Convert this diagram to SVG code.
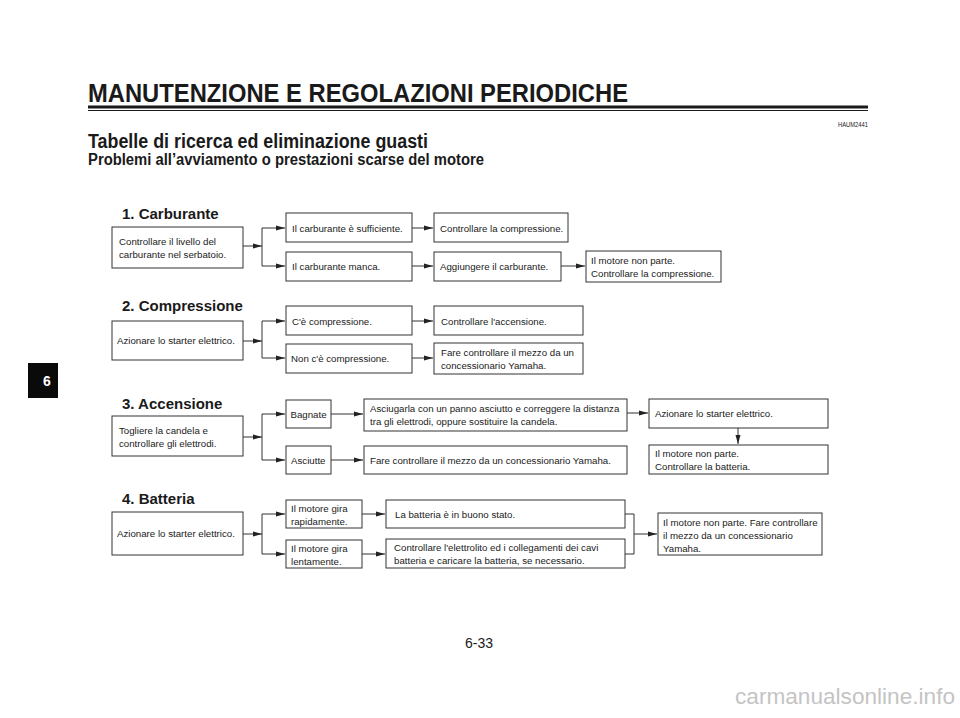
<svg xmlns="http://www.w3.org/2000/svg" width="960" height="718" viewBox="0 0 960 718">
<style>
text{font-family:"Liberation Sans",Arial,Helvetica,sans-serif;fill:#1a1a1a}
.t{font-size:9.7px}
.h{font-size:15px;font-weight:bold}
.box{fill:#fff;stroke:#333;stroke-width:1}
.ln{fill:none;stroke:#333;stroke-width:1}
</style>
<defs>
<marker id="ar" markerWidth="9" markerHeight="6" refX="9" refY="3" orient="auto" markerUnits="userSpaceOnUse">
<path d="M0,0.5 L9,3 L0,5.5 Z" fill="#222"/>
</marker>
</defs>
<rect width="960" height="718" fill="#fff"/>
<g id="header">
<text x="88" y="102" font-size="25" font-weight="bold" textLength="540" lengthAdjust="spacingAndGlyphs">MANUTENZIONE E REGOLAZIONI PERIODICHE</text>
<rect x="88" y="105.5" width="780" height="3" fill="#1a1a1a"/>
<rect x="88" y="110" width="780" height="1" fill="#1a1a1a"/>
<text x="868" y="127" font-size="7.5" text-anchor="end" textLength="30" lengthAdjust="spacingAndGlyphs">HAUM2441</text>
<text x="88" y="148" font-size="20" font-weight="bold" textLength="340" lengthAdjust="spacingAndGlyphs">Tabelle di ricerca ed eliminazione guasti</text>
<text x="88" y="165" font-size="16" font-weight="bold" textLength="396" lengthAdjust="spacingAndGlyphs">Problemi all’avviamento o prestazioni scarse del motore</text>
</g>
<g id="tab">
<rect x="28" y="363" width="30" height="35" fill="#0a0a0a"/>
<text x="47" y="386" font-size="14" font-weight="bold" text-anchor="middle" style="fill:#fff">6</text>
</g>
<g id="headings">
<text class="h" x="122" y="219">1. Carburante</text>
<text class="h" x="122" y="311">2. Compressione</text>
<text class="h" x="122" y="409">3. Accensione</text>
<text class="h" x="122" y="504">4. Batteria</text>
</g>
<g id="connectors">
<!-- section 1 -->
<line class="ln" x1="243" y1="246" x2="262" y2="246" marker-end="url(#ar)"/>
<line class="ln" x1="262" y1="228" x2="262" y2="266"/>
<line class="ln" x1="262" y1="228" x2="285" y2="228" marker-end="url(#ar)"/>
<line class="ln" x1="262" y1="266" x2="285" y2="266" marker-end="url(#ar)"/>
<line class="ln" x1="412" y1="228" x2="433" y2="228" marker-end="url(#ar)"/>
<line class="ln" x1="412" y1="266" x2="433" y2="266" marker-end="url(#ar)"/>
<line class="ln" x1="561" y1="266" x2="585" y2="266" marker-end="url(#ar)"/>
<!-- section 2 -->
<line class="ln" x1="243" y1="341" x2="262" y2="341" marker-end="url(#ar)"/>
<line class="ln" x1="262" y1="321" x2="262" y2="358"/>
<line class="ln" x1="262" y1="321" x2="285" y2="321" marker-end="url(#ar)"/>
<line class="ln" x1="262" y1="358" x2="285" y2="358" marker-end="url(#ar)"/>
<line class="ln" x1="412" y1="321" x2="433" y2="321" marker-end="url(#ar)"/>
<line class="ln" x1="412" y1="358" x2="433" y2="358" marker-end="url(#ar)"/>
<!-- section 3 -->
<line class="ln" x1="243" y1="437" x2="262" y2="437" marker-end="url(#ar)"/>
<line class="ln" x1="262" y1="414" x2="262" y2="460"/>
<line class="ln" x1="262" y1="414" x2="285" y2="414" marker-end="url(#ar)"/>
<line class="ln" x1="262" y1="460" x2="285" y2="460" marker-end="url(#ar)"/>
<line class="ln" x1="331" y1="414" x2="363" y2="414" marker-end="url(#ar)"/>
<line class="ln" x1="331" y1="460" x2="363" y2="460" marker-end="url(#ar)"/>
<line class="ln" x1="627" y1="413" x2="648" y2="413" marker-end="url(#ar)"/>
<line class="ln" x1="738" y1="428" x2="738" y2="444" marker-end="url(#ar)"/>
<!-- section 4 -->
<line class="ln" x1="243" y1="534" x2="262" y2="534" marker-end="url(#ar)"/>
<line class="ln" x1="262" y1="514" x2="262" y2="554"/>
<line class="ln" x1="262" y1="514" x2="285" y2="514" marker-end="url(#ar)"/>
<line class="ln" x1="262" y1="554" x2="285" y2="554" marker-end="url(#ar)"/>
<line class="ln" x1="362" y1="514" x2="385" y2="514" marker-end="url(#ar)"/>
<line class="ln" x1="362" y1="554" x2="385" y2="554" marker-end="url(#ar)"/>
<polyline class="ln" points="625,514 634,514 634,554 625,554"/>
<line class="ln" x1="634" y1="534" x2="657" y2="534" marker-end="url(#ar)"/>
</g>
<!-- Section 1 nodes -->
<g id="n1a"><rect class="box" x="112" y="227" width="131" height="41"/><text class="t" x="119" y="245">Controllare il livello del</text><text class="t" x="119" y="258">carburante nel serbatoio.</text></g>
<g id="n1b"><rect class="box" x="286" y="213" width="126" height="29"/><text class="t" x="292" y="231.5">Il carburante è sufficiente.</text></g>
<g id="n1c"><rect class="box" x="286" y="252" width="126" height="29"/><text class="t" x="292" y="270">Il carburante manca.</text></g>
<g id="n1d"><rect class="box" x="434" y="213" width="134" height="29"/><text class="t" x="440" y="231.5">Controllare la compressione.</text></g>
<g id="n1e"><rect class="box" x="434" y="252" width="127" height="29"/><text class="t" x="440" y="270">Aggiungere il carburante.</text></g>
<g id="n1f"><rect class="box" x="586" y="251" width="135" height="31"/><text class="t" x="591" y="263.5">Il motore non parte.</text><text class="t" x="591" y="276.5">Controllare la compressione.</text></g>
<!-- Section 2 nodes -->
<g id="n2a"><rect class="box" x="112" y="321" width="131" height="39"/><text class="t" x="117" y="344">Azionare lo starter elettrico.</text></g>
<g id="n2b"><rect class="box" x="286" y="306" width="126" height="29"/><text class="t" x="292" y="324.5">C'è compressione.</text></g>
<g id="n2c"><rect class="box" x="286" y="344" width="126" height="29"/><text class="t" x="291" y="362">Non c'è compressione.</text></g>
<g id="n2d"><rect class="box" x="434" y="306" width="149" height="29"/><text class="t" x="441" y="324.5">Controllare l'accensione.</text></g>
<g id="n2e"><rect class="box" x="434" y="343" width="149" height="31"/><text class="t" x="441" y="355.5">Fare controllare il mezzo da un</text><text class="t" x="441" y="368.5">concessionario Yamaha.</text></g>
<!-- Section 3 nodes -->
<g id="n3a"><rect class="box" x="112" y="416" width="131" height="40"/><text class="t" x="119" y="434">Togliere la candela e</text><text class="t" x="119" y="447">controllare gli elettrodi.</text></g>
<g id="n3b"><rect class="box" x="286" y="400" width="45" height="28"/><text class="t" x="290.5" y="417.5">Bagnate</text></g>
<g id="n3c"><rect class="box" x="286" y="446" width="45" height="28"/><text class="t" x="291" y="463.5">Asciutte</text></g>
<g id="n3d"><rect class="box" x="364" y="399" width="263" height="32"/><text class="t" x="370" y="412">Asciugarla con un panno asciutto e correggere la distanza</text><text class="t" x="370" y="425">tra gli elettrodi, oppure sostituire la candela.</text></g>
<g id="n3e"><rect class="box" x="364" y="446" width="263" height="28"/><text class="t" x="370" y="463.5">Fare controllare il mezzo da un concessionario Yamaha.</text></g>
<g id="n3f"><rect class="box" x="649" y="399" width="179" height="29"/><text class="t" x="655" y="417">Azionare lo starter elettrico.</text></g>
<g id="n3g"><rect class="box" x="649" y="445" width="179" height="29"/><text class="t" x="655" y="457">Il motore non parte.</text><text class="t" x="655" y="470">Controllare la batteria.</text></g>
<!-- Section 4 nodes -->
<g id="n4a"><rect class="box" x="112" y="512" width="131" height="43"/><text class="t" x="117" y="537">Azionare lo starter elettrico.</text></g>
<g id="n4b"><rect class="box" x="286" y="500" width="76" height="28"/><text class="t" x="291" y="511.5">Il motore gira</text><text class="t" x="291" y="524.5">rapidamente.</text></g>
<g id="n4c"><rect class="box" x="286" y="540" width="76" height="28"/><text class="t" x="291" y="551.5">Il motore gira</text><text class="t" x="291" y="564.5">lentamente.</text></g>
<g id="n4d"><rect class="box" x="386" y="500" width="239" height="28"/><text class="t" x="395" y="517.5">La batteria è in buono stato.</text></g>
<g id="n4e"><rect class="box" x="386" y="539" width="239" height="29"/><text class="t" x="394" y="551">Controllare l'elettrolito ed i collegamenti dei cavi</text><text class="t" x="394" y="564">batteria e caricare la batteria, se necessario.</text></g>
<g id="n4f"><rect class="box" x="658" y="513" width="164" height="42"/><text class="t" x="663" y="525.5">Il motore non parte. Fare controllare</text><text class="t" x="663" y="538.5">il mezzo da un concessionario</text><text class="t" x="663" y="551.5">Yamaha.</text></g>
<g id="footer">
<text x="479" y="648" font-size="14" text-anchor="middle">6-33</text>
<text x="735" y="704" font-size="22" textLength="220" lengthAdjust="spacingAndGlyphs" style="fill:#c4c4c4">carmanualsonline.info</text>
</g>
</svg>
